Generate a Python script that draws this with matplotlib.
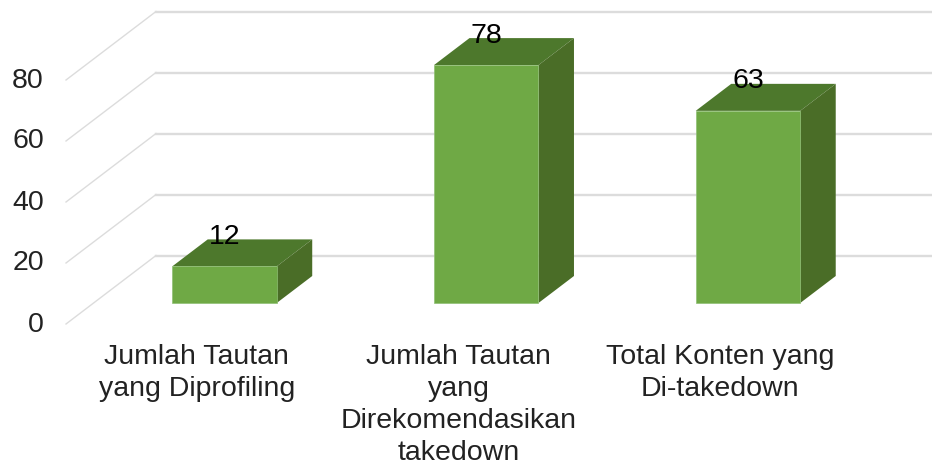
import matplotlib
matplotlib.use("Agg")
import matplotlib.pyplot as plt
from matplotlib.transforms import ScaledTranslation

plt.rcParams['font.family'] = ['Liberation Sans', 'DejaVu Sans']

categories = ["Jumlah Tautan\nyang Diprofiling",
              "Jumlah Tautan\nyang\nDirekomendasikan\ntakedown",
              "Total Konten yang\nDi-takedown"]
values = [12, 78, 63]
y_ticks = [0, 20, 40, 60, 80]

FRONT = "#6fa945"
TOP = "#4d782c"
SIDE = "#4a6d27"
EDGE = "#8fbf74"
GRID = "#dcdcdc"

# size of one data unit in pixels
PX_X = 261.75
PX_Y = 3.05

WIDTH = 104.5 / PX_X
# depth of one bar
DEPTH_X = 35.5 / PX_X
DEPTH_Y = 27 / PX_Y
# bars stand a bit behind the front edge of the floor
SHIFT_X = 27.6 / PX_X
SHIFT_Y = 21 / PX_Y
# back wall
WALL_X = 90 / PX_X
WALL_Y = 68.5 / PX_Y

fig = plt.figure(figsize=(9.32, 4.68), dpi=100)
ax = fig.add_axes([66 / 932, (468 - 324) / 468, (932 - 66) / 932, 324 / 468])
ax.set_xlim(-0.5, 0.5 + (932 - 66) / PX_X - 1)
ax.set_ylim(0, 324 / PX_Y)

for t in y_ticks:
    ax.plot([-0.5, -0.5 + WALL_X], [t, t + WALL_Y], color=GRID, lw=1.0, zorder=1, clip_on=False)
    ax.plot([-0.5 + WALL_X, ax.get_xlim()[1]], [t + WALL_Y, t + WALL_Y], color=GRID, lw=1.7, zorder=1)

xs = [i + SHIFT_X for i in range(len(values))]
for x, v in zip(xs, values):
    left = x - WIDTH / 2
    right = x + WIDTH / 2
    bottom = SHIFT_Y
    top = SHIFT_Y + v
    ax.fill([left, right, right + DEPTH_X, left + DEPTH_X],
            [top, top, top + DEPTH_Y, top + DEPTH_Y], color=TOP, lw=0, zorder=3)
    ax.fill([right, right + DEPTH_X, right + DEPTH_X, right],
            [bottom, bottom + DEPTH_Y, top + DEPTH_Y, top], color=SIDE, lw=0, zorder=3)

ax.bar(xs, values, width=WIDTH, bottom=SHIFT_Y, color=FRONT, edgecolor=EDGE, linewidth=0.5, zorder=4)

label_shift = ScaledTranslation(0, 29.5 / 100, fig.dpi_scale_trans)
for x, v in zip(xs, values):
    ax.text(x, SHIFT_Y + v, str(v), transform=ax.transData + label_shift,
            ha="center", va="center", fontsize=20.5, color="black", zorder=5)

ax.set_xticks(range(len(categories)))
ax.set_xticklabels(categories, fontsize=20.5, color="#222222", linespacing=1.29)
ax.set_yticks(y_ticks)
ax.set_yticklabels([str(t) for t in y_ticks], fontsize=20.5, color="#222222")
ax.tick_params(axis="both", length=0)
ax.tick_params(axis="x", pad=14.5)
ax.tick_params(axis="y", pad=16)
for lab in ax.get_yticklabels():
    lab.set_transform(lab.get_transform() + ScaledTranslation(0, 2.5 / 100, fig.dpi_scale_trans))
for s in ax.spines.values():
    s.set_visible(False)

fig.savefig("out.png", dpi=100)
